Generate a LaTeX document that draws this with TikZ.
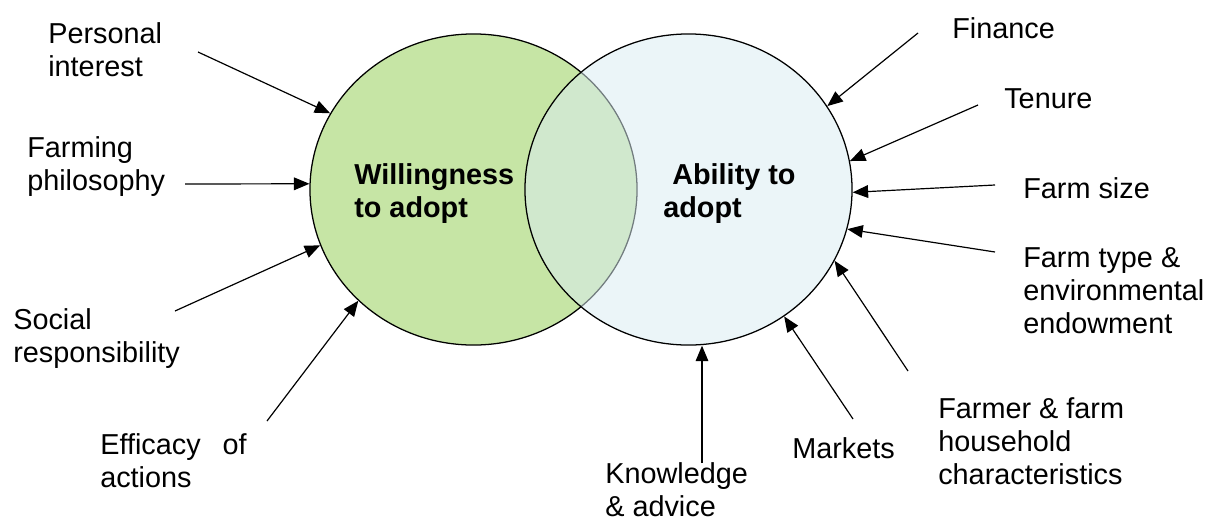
\documentclass[tikz,border=0pt]{standalone}
\usepackage{fontspec}
\setmainfont{Liberation Sans}
\usetikzlibrary{shapes.geometric,arrows.meta}
\definecolor{willgreen}{HTML}{C6E5A5}
\definecolor{ablblue}{HTML}{D9ECF1}

\begin{document}
\begin{tikzpicture}[x=0.025cm, y=-0.025cm,
    factor/.style={anchor=north west, inner sep=0pt, align=left, font=\fontsize{20.5}{23.5}\selectfont},
    push/.style={-{Triangle[length=11pt,width=9pt]}, line width=0.85pt},
    blob/.style={ellipse, draw, line width=0.9pt, inner sep=0pt, minimum width=8.175cm, minimum height=7.775cm}]
    \useasboundingbox (0,0) rectangle (1215,520);

    % The two overlapping circles
    \node[blob, fill=willgreen] (will) at (473.5, 189.5) {};
    \node[blob, fill=ablblue, fill opacity=0.53] (able) at (688.5, 189.5) {};

    \node[factor, font=\fontsize{20.5}{23.5}\selectfont\bfseries] (willtxt) at (354, 163) {Willingness\\to adopt};
    \node[factor, font=\fontsize{20.5}{23.5}\selectfont\bfseries] (abletxt) at (663, 163) {\hspace*{0.225cm}Ability to\\adopt};

    % Factors of willingness
    \node[factor] (pi) at (48, 22) {Personal\\interest};
    \node[factor] (fp) at (27, 136) {Farming\\philosophy};
    \node[factor] (sr) at (13, 308) {Social\\responsibility};
    \node[factor] (ea) at (100, 433) {Efficacy\hspace{0.35cm} of\\actions};

    % Factors of ability
    \node[factor] (fin) at (952, 17) {Finance};
    \node[factor] (ten) at (1004, 88) {Tenure};
    \node[factor] (fs) at (1023, 177) {Farm size};
    \node[factor] (ft) at (1023, 247) {Farm type \&\\environmental\\endowment};
    \node[factor] (fh) at (938, 397) {Farmer \& farm\\household\\characteristics};
    \node[factor] (mk) at (792, 437) {Markets};
    \node[factor] (ka) at (605, 462) {Knowledge\\\& advice};

    % Arrow tails
    \coordinate (pi-t) at (198, 52);
    \coordinate (fp-t) at (185, 184);
    \coordinate (sr-t) at (175, 311);
    \coordinate (ea-t) at (267, 421);
    \coordinate (fin-t) at (918, 33);
    \coordinate (ten-t) at (978, 105);
    \coordinate (fs-t) at (995, 185);
    \coordinate (ft-t) at (995, 252);
    \coordinate (fh-t) at (908, 371);
    \coordinate (mk-t) at (853, 419);
    \coordinate (ka-t) at (702, 463);

    \draw[push] (pi-t) -- (will.152);
    \draw[push] (fp-t) -- (will.178);
    \draw[push] (sr-t) -- (will.200);
    \draw[push] (ea-t) -- (will.224);

    \draw[push] (fin-t) -- (able.31.5);
    \draw[push] (ten-t) -- (able.10.5);
    \draw[push] (fs-t) -- (able.359);
    \draw[push] (ft-t) -- (able.346);
    \draw[push] (fh-t) -- (able.334);
    \draw[push] (mk-t) -- (able.307);
    \draw[push] (ka-t) -- (ka-t |- able.south);
\end{tikzpicture}
\end{document}
